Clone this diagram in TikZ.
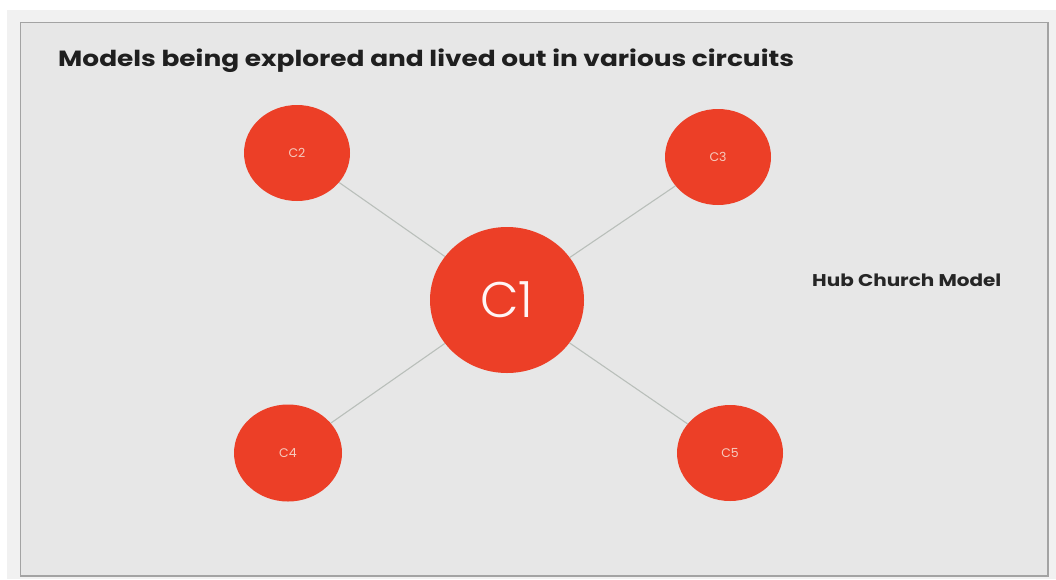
\documentclass[tikz,border=0pt]{standalone}
\usepackage{fontspec}
\usetikzlibrary{shapes.geometric}
\setmainfont{Poppins}
\newfontfamily\popbold{Poppins}[UprightFont=* Bold]
\newfontfamily\poplight{Poppins}[UprightFont=* Light]
\definecolor{panelfill}{HTML}{E7E7E7}
\definecolor{panelline}{HTML}{A3A3A3}
\definecolor{shadowfill}{HTML}{F1F1F1}
\definecolor{hubred}{HTML}{EC3F27}
\definecolor{labelpink}{HTML}{F6CBBE}
\definecolor{linkgray}{HTML}{B9BFBA}
\begin{document}
\begin{tikzpicture}[x=1pt,y=-1pt,
  hub/.style={ellipse,fill=hubred,inner sep=0pt},
  small/.style={hub,minimum width=106pt,minimum height=96pt,text=labelpink,font=\fontsize{12.5}{12.5}\selectfont},
  link/.style={draw=linkgray,line width=1.1pt}]
\useasboundingbox (0,0) rectangle (1056,579);
\fill[white] (0,0) rectangle (1056,579);
\fill[shadowfill] (7,10) rectangle (1056,579);
\filldraw[fill=panelfill,draw=panelline,line width=1.2pt] (20.5,22.5) rectangle (1048,576);
\node[anchor=base west,inner sep=0pt,font=\popbold\fontsize{22}{22}\selectfont,text=black!88] (title) at (58,66) {\scalebox{1.2}[1]{Models being explored and lived out in various circuits}};
\node[anchor=base west,inner sep=0pt,font=\popbold\fontsize{17}{17}\selectfont,text=black!85] (hubtxt) at (812,286) {\scalebox{1.175}[1]{Hub Church Model}};
\node[hub,minimum width=154pt,minimum height=146pt,text=white!96!red,font=\poplight\fontsize{50}{50}\selectfont] (c1) at (507,300) {C1};
\node[small] (c2) at (297,153) {C2};
\node[small] (c3) at (718,157) {C3};
\node[small,minimum width=108pt,minimum height=97pt] (c4) at (288,453) {C4};
\node[small] (c5) at (730,453) {C5};
\draw[link] (c2) -- (c1);
\draw[link] (c3) -- (c1);
\draw[link] (c4) -- (c1);
\draw[link] (c5) -- (c1);
\end{tikzpicture}
\end{document}
